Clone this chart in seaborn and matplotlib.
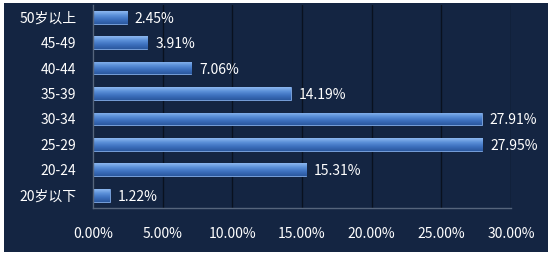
import numpy as np
import pandas as pd
import matplotlib
matplotlib.use("Agg")
import matplotlib.pyplot as plt
from matplotlib.patches import Rectangle
from matplotlib.colors import LinearSegmentedColormap
from matplotlib.ticker import FuncFormatter, FixedLocator
import seaborn as sns

categories = ["50岁以上", "45-49", "40-44", "35-39", "30-34", "25-29", "20-24", "20岁以下"]
values = [2.45, 3.91, 7.06, 14.19, 27.91, 27.95, 15.31, 1.22]
xticks = [0, 5, 10, 15, 20, 25, 30]

sns.set_theme(style="white")
plt.rcParams['font.family'] = ['Noto Sans CJK SC', 'DejaVu Sans']

BG = "#142542"
FS = 10
fig = plt.figure(figsize=(5.56, 2.60), dpi=100, facecolor="white")
fig.patches.append(Rectangle((4/556, 1-252/260), 544/556, 249/260,
                             transform=fig.transFigure, facecolor=BG,
                             edgecolor="none", zorder=-5))
ax = fig.add_axes([93/556, 1-208/260, 418/556, 203.5/260])
ax.set_zorder(2)
ax.set_facecolor(BG)

df = pd.DataFrame({"cat": categories, "val": values})
sns.barplot(data=df, y="cat", x="val", orient="h", color="#4a80cc",
            width=0.5, ax=ax, edgecolor="#7fa9e6", linewidth=0.6, zorder=3)

ax.set_xlim(0, 30)
ax.set_ylim(len(categories) - 0.5, -0.5)

# gradient fill on bars
cmap = LinearSegmentedColormap.from_list("g", ["#8db8f0", "#5a8fd8", "#3c6fbd", "#2b589e"])
grad = np.linspace(0, 1, 64).reshape(-1, 1)
for p in list(ax.patches):
    x0, y0 = p.get_x(), p.get_y()
    w, h = p.get_width(), p.get_height()
    im = ax.imshow(grad, cmap=cmap, aspect="auto",
                   extent=(x0, x0 + w, y0 + h, y0), origin="upper", zorder=3.5)
    im.set_clip_path(p)
ax.set_xlim(0, 30)
ax.set_ylim(len(categories) - 0.5, -0.5)
ax.set_aspect("auto")

# value labels
for i, v in enumerate(values):
    ax.text(v + 0.55, i, f"{v:.2f}%", va="center_baseline", ha="left",
            color="white", fontsize=FS, zorder=5)

ax.xaxis.set_major_locator(FixedLocator(xticks))
ax.xaxis.set_major_formatter(FuncFormatter(lambda x, _: f"{x:.2f}%"))
ax.grid(axis="x", color="#09111f", linewidth=1.0, zorder=1)
ax.grid(axis="y", visible=False)
ax.set_axisbelow(True)

for s in ["top", "right"]:
    ax.spines[s].set_visible(False)
for s in ["left", "bottom"]:
    ax.spines[s].set_color("#56657c")
    ax.spines[s].set_linewidth(1.0)
    ax.spines[s].set_zorder(4)

ax.tick_params(axis="x", direction="in", length=3, color="#56657c", width=1,
               labelcolor="white", labelsize=FS, pad=14)
ax.tick_params(axis="y", length=0, labelsize=FS, labelcolor="white", pad=12)
for lbl in ax.get_yticklabels():
    lbl.set_verticalalignment("center_baseline")
ax.yaxis.set_minor_locator(FixedLocator(np.arange(0.5, len(categories) - 0.5, 1)))
ax.tick_params(axis="y", which="minor", length=4, color="#56657c", width=1, direction="out")

ax.set_xlabel("")
ax.set_ylabel("")

fig.savefig("out.png", dpi=100, facecolor="white")
